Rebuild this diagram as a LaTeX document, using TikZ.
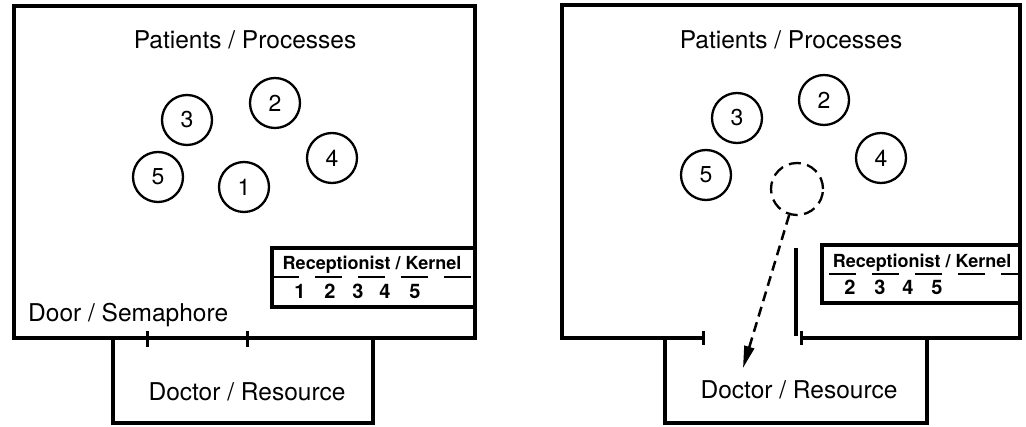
\documentclass[tikz,border=0pt]{standalone}
\usepackage{fontspec}
\setmainfont{TeX Gyre Heros}
\usetikzlibrary{arrows.meta}
\begin{document}
\begin{tikzpicture}[x=1pt,y=-1pt,
 wall/.style={line width=4.5pt},
 proc/.style={circle,draw,line width=2.3pt,minimum size=50pt,inner sep=0pt,font=\fontsize{23}{23}\selectfont},
 ghost/.style={circle,draw,line width=2.3pt,minimum size=52pt,dash pattern=on 12pt off 6.5pt},
 rbox/.style={line width=3.5pt},
 sep/.style={line width=2.5pt,dash pattern=on 27pt off 16pt},
 big/.style={font=\fontsize{24.5}{24.5}\selectfont, inner sep=0pt},
 rec/.style={font=\bfseries\fontsize{18}{18}\selectfont, inner sep=0pt},
 num/.style={font=\bfseries\fontsize{20}{20}\selectfont, inner sep=0pt, anchor=base},
 tickmark/.style={line width=3pt},
 move/.style={line width=2.5pt, dash pattern=on 10pt off 6pt, -{Triangle[length=22pt,width=10pt]}}]
\useasboundingbox (0,0) rectangle (1026,427);

% ---------- left panel ----------
\draw[wall] (14,338) -- (14,6) -- (475,6) -- (475,338) -- cycle;
\draw[wall] (113,338) -- (113,423) -- (373,423) -- (373,338);
\draw[tickmark] (147,331) -- (147,347);
\draw[tickmark] (247,331) -- (247,347);
\draw[rbox] (475,248) -- (272,248) -- (272,307) -- (475,307);
\draw[sep] (272,277) -- (475,277);

\node[big] (lpat) at (245,40) {Patients / Processes};
\node[proc] (l3) at (187,120) {3};
\node[proc] (l2) at (275,103) {2};
\node[proc] (l4) at (332,158) {4};
\node[proc] (l5) at (158,177) {5};
\node[proc] (l1) at (244,187) {1};
\node[rec, anchor=base] (lrec) at (372,270) {Receptionist / Kernel};
\node[num] (lq1) at (300,299) {1};
\node[num] (lq2) at (330,299) {2};
\node[num] (lq3) at (358,299) {3};
\node[num] (lq4) at (385,299) {4};
\node[num] (lq5) at (415,299) {5};
\node[big, anchor=base west] (ldoor) at (28,322) {Door / Semaphore};
\node[big, anchor=base] (ldoc) at (247,401) {Doctor / Resource};

% ---------- right panel ----------
\draw[wall] (703,338) -- (562,338) -- (562,5) -- (1020,5) -- (1020,338) -- (801,338);
\draw[wall] (665,338) -- (665,423) -- (927,423) -- (927,338);
\draw[tickmark] (703,331) -- (703,345);
\draw[tickmark] (801,331) -- (801,345);
\draw[wall] (796,248) -- (796,336);
\draw[rbox] (1020,245) -- (822,245) -- (822,303) -- (1020,303);
\draw[sep] (829,274) -- (1020,274);

\node[big] (rpat) at (791,40) {Patients / Processes};
\node[proc] (r3) at (737,118) {3};
\node[proc] (r2) at (824,100) {2};
\node[proc] (r4) at (881,158) {4};
\node[proc] (r5) at (706,175) {5};
\node[ghost] (r1) at (797,189) {};
\node[rec, anchor=base] (rrec) at (922,268) {Receptionist / Kernel};
\node[num] (rq2) at (850,295) {2};
\node[num] (rq3) at (880,295) {3};
\node[num] (rq4) at (908,295) {4};
\node[num] (rq5) at (937,295) {5};
\node[big, anchor=base] (rdoc) at (799,399) {Doctor / Resource};
\coordinate (rtip) at (743,368);
\draw[move] (r1) -- (rtip);
\end{tikzpicture}
\end{document}
